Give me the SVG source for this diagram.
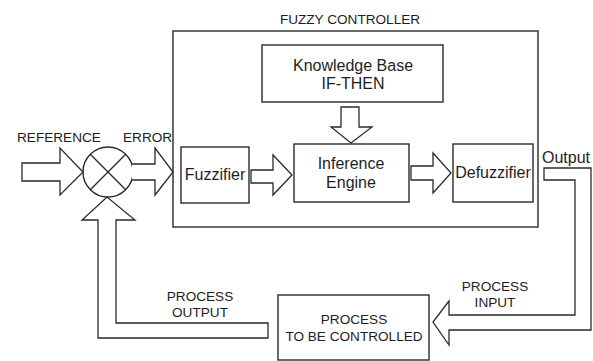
<svg xmlns="http://www.w3.org/2000/svg" width="593" height="361" viewBox="0 0 593 361">
<style>
.box{fill:#fff;stroke:#2a2a2a;stroke-width:1.4}
.arr{fill:#fff;stroke:#2a2a2a;stroke-width:1.3;stroke-linejoin:miter}
.ln{fill:none;stroke:#2a2a2a;stroke-width:1.3}
text{font-family:"Liberation Sans",Arial,sans-serif;fill:#1e1e1e}
.t16{font-size:16px}
.t14{font-size:13.6px}
</style>
<rect width="593" height="361" fill="#fff"/>
<g id="controller">
<rect class="box" x="173" y="31" width="365" height="196"/>
<text class="t14" x="350" y="24" text-anchor="middle">FUZZY CONTROLLER</text>
</g>
<g id="knowledge">
<rect class="box" x="262" y="45" width="181" height="57"/>
<text class="t16" x="353" y="71" text-anchor="middle">Knowledge Base</text>
<text class="t16" x="353" y="89" text-anchor="middle">IF-THEN</text>
</g>
<g id="fuzzifier">
<rect class="box" x="181" y="147" width="68" height="56"/>
<text class="t16" x="215" y="180" text-anchor="middle">Fuzzifier</text>
</g>
<g id="inference">
<rect class="box" x="294" y="144" width="115" height="58"/>
<text class="t16" x="351" y="169" text-anchor="middle">Inference</text>
<text class="t16" x="351" y="188" text-anchor="middle">Engine</text>
</g>
<g id="defuzzifier">
<rect class="box" x="453" y="144" width="80" height="58"/>
<text class="t16" x="493" y="178" text-anchor="middle">Defuzzifier</text>
</g>
<g id="summer">
<circle class="box" cx="108" cy="172" r="25"/>
<line class="ln" x1="90.3" y1="154.3" x2="125.7" y2="189.7"/>
<line class="ln" x1="125.7" y1="154.3" x2="90.3" y2="189.7"/>
</g>
<g id="process">
<rect class="box" x="278" y="295" width="151" height="65"/>
<text class="t14" x="354" y="324" text-anchor="middle">PROCESS</text>
<text class="t14" x="354" y="341" text-anchor="middle">TO BE CONTROLLED</text>
</g>
<g id="connectors">
<polygon class="arr" points="22,163 60,163 60,148 83,172 60,195 60,181 22,181"/>
<polyline class="arr" points="132,164 155,164 155,148 173,172 155,195 155,180 132,180"/>
<polygon class="arr" points="251,170 273,170 273,155 292,175 273,195 273,183 251,183"/>
<polygon class="arr" points="411,166 433,166 433,153 451,173 433,193 433,180 411,180"/>
<polygon class="arr" points="341,107 359,107 359,127 372,127 351,143 331,127 341,127"/>
<polygon class="arr" points="544,168 591,168 591,330 449,330 449,345 433,322 449,301 449,315 575,315 575,180 544,180"/>
<polygon class="arr" points="268,323 268,338 98,338 98,220 82,220 107,197 135,220 116,220 116,323"/>
<text class="t14" x="17" y="142">REFERENCE</text>
<text class="t14" x="123" y="142">ERROR</text>
<text class="t16" x="542" y="163">Output</text>
<text class="t14" x="495" y="291" text-anchor="middle">PROCESS</text>
<text class="t14" x="495" y="307" text-anchor="middle">INPUT</text>
<text class="t14" x="200" y="301" text-anchor="middle">PROCESS</text>
<text class="t14" x="200" y="317" text-anchor="middle">OUTPUT</text>
</g>
</svg>
